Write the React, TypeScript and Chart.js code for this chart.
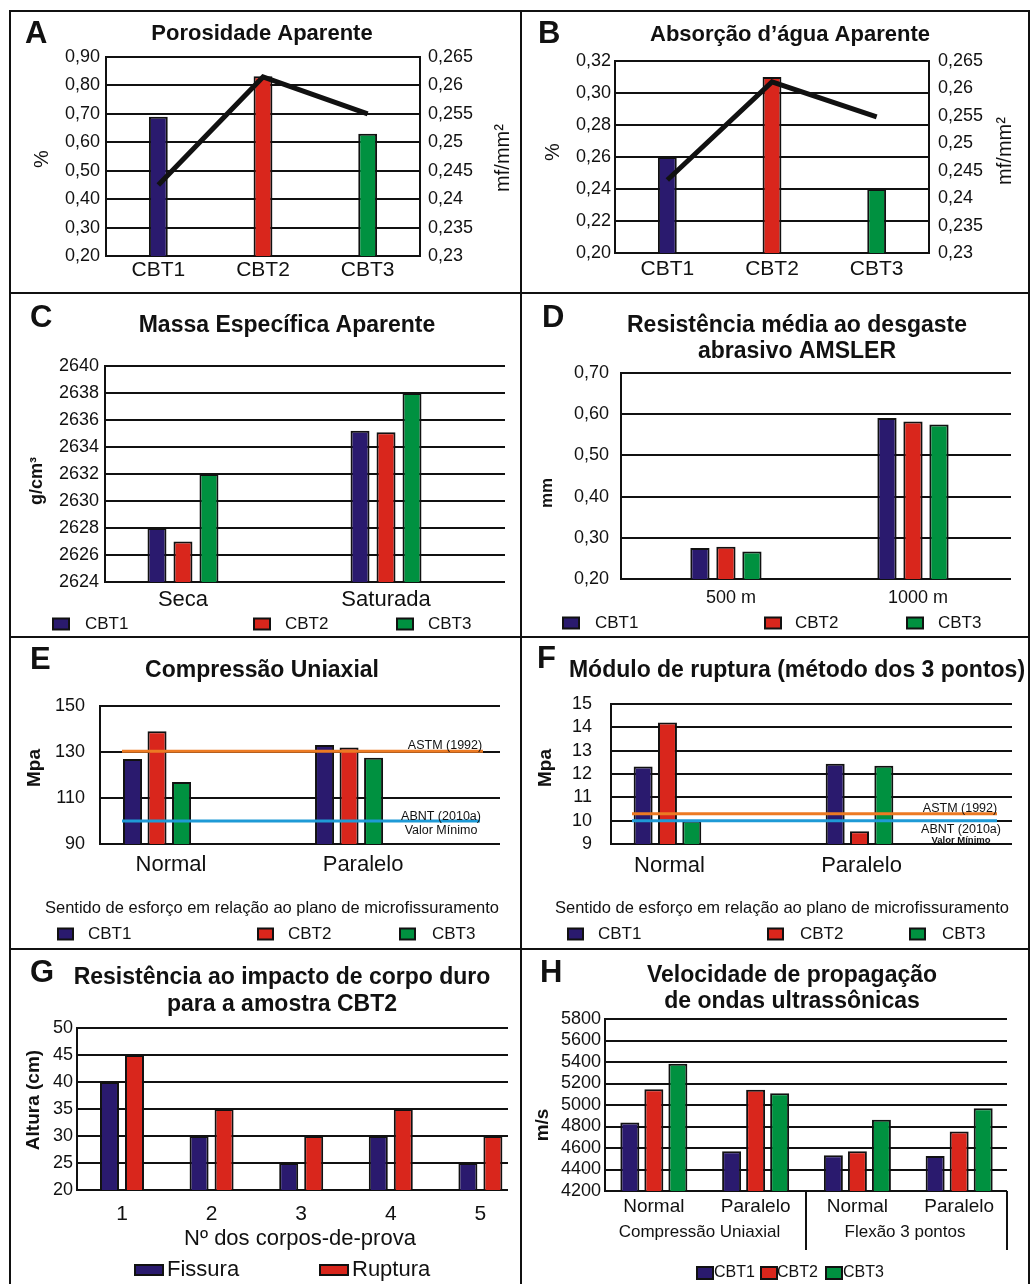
import React, { useEffect, useRef } from 'react';
import { Chart, registerables } from 'chart.js';

Chart.register(...registerables);

// ---------------- colours & fonts ----------------
const NAVY = '#2a1a6e';
const RED = '#d9261c';
const GREEN = '#009140';
const ORANGE = '#ec7a23';
const BLUE = '#1e9ad6';
const INK = '#111111';
const FONT = '"Liberation Sans", Arial, Helvetica, sans-serif';

// ---------------- data ----------------
const SERIES = ['CBT1', 'CBT2', 'CBT3'];

// A - Porosidade aparente
const A_CATS = ['CBT1', 'CBT2', 'CBT3'];
const A_POROSITY = [0.69, 0.832, 0.63];
const A_LINE = [0.2425, 0.2615, 0.255];
const A_LEFT_TICKS = ['0,20', '0,30', '0,40', '0,50', '0,60', '0,70', '0,80', '0,90'];
const AB_RIGHT_TICKS = ['0,23', '0,235', '0,24', '0,245', '0,25', '0,255', '0,26', '0,265'];

// B - Absorção d'água aparente
const B_CATS = ['CBT1', 'CBT2', 'CBT3'];
const B_ABSORPTION = [0.26, 0.31, 0.24];
const B_LINE = [0.2433, 0.2612, 0.2548];
const B_LEFT_TICKS = ['0,20', '0,22', '0,24', '0,26', '0,28', '0,30', '0,32'];

// C - Massa específica aparente
const C_CATS = ['Seca', 'Saturada'];
const C_CBT1 = [2628, 2635.2];
const C_CBT2 = [2627, 2635.1];
const C_CBT3 = [2632, 2638];
const C_TICKS = ['2624', '2626', '2628', '2630', '2632', '2634', '2636', '2638', '2640'];

// D - Desgaste abrasivo AMSLER
const D_CATS = ['500 m', '1000 m'];
const D_CBT1 = [0.275, 0.591];
const D_CBT2 = [0.278, 0.582];
const D_CBT3 = [0.267, 0.575];
const D_TICKS = ['0,20', '0,30', '0,40', '0,50', '0,60', '0,70'];

// E - Compressão uniaxial
const E_CATS = ['Normal', 'Paralelo'];
const E_CBT1 = [127, 133];
const E_CBT2 = [139, 132];
const E_CBT3 = [117, 127.5];
const E_ASTM = 130.3;
const E_ABNT = 100;
const E_TICKS = ['90', '110', '130', '150'];

// F - Módulo de ruptura
const F_CATS = ['Normal', 'Paralelo'];
const F_CBT1 = [12.32, 12.44];
const F_CBT2 = [14.21, 9.55];
const F_CBT3 = [10.0, 12.35];
const F_ASTM = 10.3;
const F_ABNT = 10.0;
const F_TICKS = ['9', '10', '11', '12', '13', '14', '15'];

// G - Impacto de corpo duro (CBT2)
const G_CATS = ['1', '2', '3', '4', '5'];
const G_FISSURA = [40, 30, 25, 30, 25];
const G_RUPTURA = [45, 35, 30, 35, 30];
const G_TICKS = ['20', '25', '30', '35', '40', '45', '50'];

// H - Velocidade de ondas ultrassônicas
const H_CATS = ['Normal', 'Paralelo', 'Normal', 'Paralelo'];
const H_GROUPS = ['Compressão Uniaxial', 'Flexão 3 pontos'];
const H_CBT1 = [4837, 4570, 4532, 4526];
const H_CBT2 = [5147, 5141, 4570, 4753];
const H_CBT3 = [5383, 5110, 4862, 4970];
const H_TICKS = ['4200', '4400', '4600', '4800', '5000', '5200', '5400', '5600', '5800'];

const SERIES_COLORS = [NAVY, RED, GREEN];

// ---------------- helpers ----------------
const num = (s: string) => parseFloat(s.replace(',', '.'));
const pts = (vals: number[]) => vals.map((v, i) => ({ x: i, y: v }));

type TextItem = {
  t: string; x: number; y: number; size: number; bold?: boolean;
  align?: CanvasTextAlign; base?: CanvasTextBaseline; rot?: number;
};
const T = (t: string, x: number, y: number, size: number, o: Partial<TextItem> = {}): TextItem => ({ t, x, y, size, ...o });

type Legend = { size: number; items: [number, number, number, number, number, number][] };
type Ref = { value: number; color: string; x1: number; x2: number };

interface PanelSpec {
  key: string;
  rect: [number, number, number, number];
  plot: [number, number, number, number];
  cats: string[];
  xMin: number; xMax: number; xFont: number; xPad: number; xOffset?: number;
  yTicks: string[]; yFont: number; yPad: number;
  y2Ticks?: string[]; y2Pad?: number;
  datasets: any[];
  texts: TextItem[];
  legend?: Legend;
  refs?: Ref[];
  vlines?: [number, number, number][];
}

const bar = (label: string, vals: number[], color: any, cat: number, barP: number) => ({
  type: 'bar',
  label,
  data: pts(vals),
  backgroundColor: color,
  borderColor: INK,
  borderWidth: 2,
  categoryPercentage: cat,
  barPercentage: barP,
  order: 1,
});

const line = (vals: number[]) => ({
  type: 'line',
  label: 'mf/mm²',
  data: pts(vals),
  yAxisID: 'y1',
  borderColor: INK,
  borderWidth: 5,
  pointRadius: 0,
  tension: 0,
  borderCapStyle: 'butt',
  borderJoinStyle: 'miter',
  order: 0,
});

const three = (a: number[], b: number[], c: number[], cat: number, barP: number) => [
  bar(SERIES[0], a, NAVY, cat, barP),
  bar(SERIES[1], b, RED, cat, barP),
  bar(SERIES[2], c, GREEN, cat, barP),
];

const legendRow = (size: number, y: number, h: number, w: number, boxes: number[], texts: number[]): Legend => ({
  size,
  items: boxes.map((bx, i) => [bx, y - h / 2, w, h, texts[i], y] as [number, number, number, number, number, number]),
});

// ---------------- panels ----------------
const PANELS: PanelSpec[] = [
  {
    key: 'A', rect: [11, 12, 509, 280], plot: [106, 57, 420, 256],
    cats: A_CATS, xMin: -0.5, xMax: 2.5, xFont: 21, xPad: 2,
    yTicks: A_LEFT_TICKS, yFont: 18, yPad: 6, y2Ticks: AB_RIGHT_TICKS, y2Pad: 8,
    datasets: [line(A_LINE), bar('%', A_POROSITY, SERIES_COLORS, 0.18, 1)],
    texts: [
      T('A', 25, 43, 31, { bold: true }),
      T('Porosidade Aparente', 262, 39.5, 22, { bold: true, align: 'center' }),
      T('%', 42, 159, 20, { rot: -90, align: 'center', base: 'middle' }),
      T('mf/mm²', 503, 158, 20, { rot: -90, align: 'center', base: 'middle' }),
    ],
  },
  {
    key: 'B', rect: [522, 12, 506, 280], plot: [615, 61, 929, 253],
    cats: B_CATS, xMin: -0.5, xMax: 2.5, xFont: 21, xPad: 4,
    yTicks: B_LEFT_TICKS, yFont: 18, yPad: 4, y2Ticks: AB_RIGHT_TICKS, y2Pad: 9,
    datasets: [line(B_LINE), bar('%', B_ABSORPTION, SERIES_COLORS, 0.18, 1)],
    texts: [
      T('B', 538, 43, 31, { bold: true }),
      T('Absorção d’água Aparente', 790, 41, 22, { bold: true, align: 'center' }),
      T('%', 553, 152, 20, { rot: -90, align: 'center', base: 'middle' }),
      T('mf/mm²', 1005, 151, 20, { rot: -90, align: 'center', base: 'middle' }),
    ],
  },
  {
    key: 'C', rect: [11, 294, 509, 342], plot: [105, 366, 505, 582],
    cats: C_CATS, xMin: -0.384, xMax: 1.586, xFont: 22, xPad: 5,
    yTicks: C_TICKS, yFont: 18, yPad: 6,
    datasets: three(C_CBT1, C_CBT2, C_CBT3, 0.384, 0.73),
    texts: [
      T('C', 30, 327, 31, { bold: true }),
      T('Massa Específica Aparente', 287, 332, 23, { bold: true, align: 'center' }),
      T('g/cm³', 37, 481, 18, { bold: true, rot: -90, align: 'center', base: 'middle' }),
    ],
    legend: legendRow(17, 624, 11, 16, [53, 254, 397], [85, 285, 428]),
  },
  {
    key: 'D', rect: [522, 294, 506, 342], plot: [621, 373, 1011, 579],
    cats: D_CATS, xMin: -0.561, xMax: 1.524, xFont: 18, xPad: 8, xOffset: 5,
    yTicks: D_TICKS, yFont: 18, yPad: 12,
    datasets: three(D_CBT1, D_CBT2, D_CBT3, 0.417, 0.74),
    texts: [
      T('D', 542, 327, 31, { bold: true }),
      T('Resistência média ao desgaste', 797, 332, 23, { bold: true, align: 'center' }),
      T('abrasivo AMSLER', 797, 358, 23, { bold: true, align: 'center' }),
      T('mm', 547, 493, 17, { bold: true, rot: -90, align: 'center', base: 'middle' }),
    ],
    legend: legendRow(17, 623, 11, 16, [563, 765, 907], [595, 795, 938]),
  },
  {
    key: 'E', rect: [11, 638, 509, 310], plot: [100, 706, 500, 844],
    cats: E_CATS, xMin: -0.297, xMax: 1.786, xFont: 22, xPad: 8, xOffset: 14,
    yTicks: E_TICKS, yFont: 18, yPad: 15,
    datasets: three(E_CBT1, E_CBT2, E_CBT3, 0.383, 0.776),
    texts: [
      T('E', 30, 669, 31, { bold: true }),
      T('Compressão Uniaxial', 262, 677, 23, { bold: true, align: 'center' }),
      T('Mpa', 35, 768, 19, { bold: true, rot: -90, align: 'center', base: 'middle' }),
      T('Sentido de esforço em relação ao plano de microfissuramento', 272, 913, 16.5, { align: 'center' }),
      T('ASTM (1992)', 445, 749, 12.5, { align: 'center' }),
      T('ABNT (2010a)', 441, 820, 12.5, { align: 'center' }),
      T('Valor Mínimo', 441, 834, 12.5, { align: 'center' }),
    ],
    legend: legendRow(17, 934, 11, 15, [58, 258, 400], [88, 288, 432]),
    refs: [
      { value: E_ASTM, color: ORANGE, x1: 122, x2: 483 },
      { value: E_ABNT, color: BLUE, x1: 122, x2: 480 },
    ],
  },
  {
    key: 'F', rect: [522, 638, 506, 310], plot: [611, 704, 1012, 844],
    cats: F_CATS, xMin: -0.294, xMax: 1.794, xFont: 22, xPad: 9, xOffset: 2,
    yTicks: F_TICKS, yFont: 18, yPad: 19,
    datasets: three(F_CBT1, F_CBT2, F_CBT3, 0.38, 0.78),
    texts: [
      T('F', 537, 668, 31, { bold: true }),
      T('Módulo de ruptura (método dos 3 pontos)', 797, 677, 23, { bold: true, align: 'center' }),
      T('Mpa', 546, 768, 19, { bold: true, rot: -90, align: 'center', base: 'middle' }),
      T('Sentido de esforço em relação ao plano de microfissuramento', 782, 913, 16.5, { align: 'center' }),
      T('ASTM (1992)', 960, 812, 12.5, { align: 'center' }),
      T('ABNT (2010a)', 961, 833, 12.5, { align: 'center' }),
      T('Valor Mínimo', 961, 842.5, 9.5, { align: 'center', bold: true }),
    ],
    legend: legendRow(17, 934, 11, 15, [568, 768, 910], [598, 800, 942]),
    refs: [
      { value: F_ASTM, color: ORANGE, x1: 632, x2: 997 },
      { value: F_ABNT, color: BLUE, x1: 632, x2: 997 },
    ],
  },
  {
    key: 'G', rect: [11, 950, 509, 334], plot: [77, 1028, 508, 1190],
    cats: G_CATS, xMin: -0.502, xMax: 4.308, xFont: 21, xPad: 12,
    yTicks: G_TICKS, yFont: 18, yPad: 4,
    datasets: [
      bar('Fissura', G_FISSURA, NAVY, 0.558, 0.76),
      bar('Ruptura', G_RUPTURA, RED, 0.558, 0.76),
    ],
    texts: [
      T('G', 30, 982, 31, { bold: true }),
      T('Resistência ao impacto de corpo duro', 282, 984, 23, { bold: true, align: 'center' }),
      T('para a amostra CBT2', 282, 1010.5, 23, { bold: true, align: 'center' }),
      T('Altura (cm)', 34, 1100, 19, { bold: true, rot: -90, align: 'center', base: 'middle' }),
      T('Nº dos corpos-de-prova', 300, 1245, 22, { align: 'center' }),
    ],
    legend: legendRow(22, 1270, 10, 28, [135, 320], [167, 352]),
  },
  {
    key: 'H', rect: [522, 950, 506, 334], plot: [605, 1019, 1007, 1191],
    cats: H_CATS, xMin: -0.48, xMax: 3.47, xFont: 19, xPad: 4.5,
    yTicks: H_TICKS, yFont: 18, yPad: 4,
    datasets: three(H_CBT1, H_CBT2, H_CBT3, 0.708, 0.79),
    texts: [
      T('H', 540, 982, 31, { bold: true }),
      T('Velocidade de propagação', 792, 982, 23, { bold: true, align: 'center' }),
      T('de ondas ultrassônicas', 792, 1008, 23, { bold: true, align: 'center' }),
      T('m/s', 543, 1125, 19, { bold: true, rot: -90, align: 'center', base: 'middle' }),
      T(H_GROUPS[0], 699.5, 1237, 17, { align: 'center' }),
      T(H_GROUPS[1], 905, 1237, 17, { align: 'center' }),
    ],
    legend: legendRow(16, 1273, 12, 16, [697, 761, 826], [714, 777, 843]),
    vlines: [[806, 1191, 1250], [1007, 1191, 1250]],
  },
];

// ---------------- plugin for panel decorations ----------------
function makeDecor(p: PanelSpec) {
  const [cx, cy] = p.rect;
  return {
    id: 'decor' + p.key,
    afterDatasetsDraw(chart: any) {
      const ctx: CanvasRenderingContext2D = chart.ctx;
      const ys = chart.scales.y;
      (p.refs || []).forEach((r) => {
        const py = ys.getPixelForValue(r.value);
        ctx.save();
        ctx.strokeStyle = r.color;
        ctx.lineWidth = 3;
        ctx.beginPath();
        ctx.moveTo(r.x1 - cx, py);
        ctx.lineTo(r.x2 - cx, py);
        ctx.stroke();
        ctx.restore();
      });
    },
    afterDraw(chart: any) {
      const ctx: CanvasRenderingContext2D = chart.ctx;
      ctx.save();
      (p.vlines || []).forEach(([x, y1, y2]) => {
        ctx.strokeStyle = INK;
        ctx.lineWidth = 2;
        ctx.beginPath();
        ctx.moveTo(x - cx, y1 - cy);
        ctx.lineTo(x - cx, y2 - cy);
        ctx.stroke();
      });
      p.texts.forEach((it) => {
        ctx.save();
        ctx.font = `${it.bold ? 'bold ' : ''}${it.size}px ${FONT}`;
        ctx.fillStyle = INK;
        ctx.textAlign = it.align || 'left';
        ctx.textBaseline = it.base || 'alphabetic';
        if (it.rot) {
          ctx.translate(it.x - cx, it.y - cy);
          ctx.rotate((it.rot * Math.PI) / 180);
          ctx.fillText(it.t, 0, 0);
        } else {
          ctx.fillText(it.t, it.x - cx, it.y - cy);
        }
        ctx.restore();
      });
      if (p.legend) {
        const lg = p.legend;
        lg.items.forEach(([bx, by, bw, bh, tx, ty], i) => {
          const ds = chart.data.datasets.filter((d: any) => d.type === 'bar')[i];
          if (!ds) return;
          ctx.fillStyle = ds.backgroundColor;
          ctx.fillRect(bx - cx, by - cy, bw, bh);
          ctx.strokeStyle = INK;
          ctx.lineWidth = 2;
          ctx.strokeRect(bx - cx, by - cy, bw, bh);
          ctx.font = `${lg.size}px ${FONT}`;
          ctx.fillStyle = INK;
          ctx.textAlign = 'left';
          ctx.textBaseline = 'middle';
          ctx.fillText(ds.label, tx - cx, ty - cy);
        });
      }
      ctx.restore();
    },
  };
}

function buildConfig(p: PanelSpec): any {
  const [cx, cy, cw, ch] = p.rect;
  const [L, T0, R, B] = p.plot;
  const XH = 30;
  const yVals = p.yTicks.map(num);
  const scales: any = {
    x: {
      type: 'linear',
      min: p.xMin,
      max: p.xMax,
      offset: false,
      afterBuildTicks: (s: any) => { s.ticks = p.cats.map((_, i) => ({ value: i })); },
      afterFit: (s: any) => { s.height = XH; },
      grid: { display: false, drawTicks: false },
      border: { display: false },
      ticks: {
        callback: (_v: any, i: number) => p.cats[i],
        font: { family: FONT, size: p.xFont },
        color: INK,
        padding: p.xPad,
        maxRotation: 0,
        minRotation: 0,
        autoSkip: false,
        labelOffset: p.xOffset || 0,
      },
    },
    y: {
      type: 'linear',
      position: 'left',
      min: yVals[0],
      max: yVals[yVals.length - 1],
      beginAtZero: false,
      afterBuildTicks: (s: any) => { s.ticks = yVals.map((v) => ({ value: v })); },
      afterFit: (s: any) => { s.width = L - cx; },
      grid: { color: INK, lineWidth: 2, drawTicks: false },
      border: { display: true, color: INK, width: 2 },
      ticks: {
        callback: (_v: any, i: number) => p.yTicks[i],
        font: { family: FONT, size: p.yFont },
        color: INK,
        padding: p.yPad,
        autoSkip: false,
      },
    },
  };
  if (p.y2Ticks) {
    const y2Vals = p.y2Ticks.map(num);
    scales.y1 = {
      type: 'linear',
      position: 'right',
      min: y2Vals[0],
      max: y2Vals[y2Vals.length - 1],
      afterBuildTicks: (s: any) => { s.ticks = y2Vals.map((v) => ({ value: v })); },
      afterFit: (s: any) => { s.width = cx + cw - R; },
      grid: { display: false, drawTicks: false },
      border: { display: true, color: INK, width: 2 },
      ticks: {
        callback: (_v: any, i: number) => p.y2Ticks![i],
        font: { family: FONT, size: p.yFont },
        color: INK,
        padding: p.y2Pad,
        autoSkip: false,
      },
    };
  }
  return {
    type: 'bar',
    data: { datasets: p.datasets },
    options: {
      responsive: false,
      maintainAspectRatio: false,
      animation: false,
      events: [],
      layout: {
        padding: {
          left: 0,
          top: T0 - cy,
          right: p.y2Ticks ? 0 : cx + cw - R,
          bottom: cy + ch - B - XH,
        },
      },
      plugins: {
        legend: { display: false },
        tooltip: { enabled: false },
        title: { display: false },
      },
      scales,
    },
    plugins: [makeDecor(p)],
  };
}

function Panel({ spec }: { spec: PanelSpec }) {
  const ref = useRef<HTMLCanvasElement>(null);
  useEffect(() => {
    const chart = new Chart(ref.current as HTMLCanvasElement, buildConfig(spec));
    return () => chart.destroy();
  }, [spec]);
  const [cx, cy, cw, ch] = spec.rect;
  return (
    <canvas
      ref={ref}
      width={cw}
      height={ch}
      style={{ position: 'absolute', left: cx, top: cy, width: cw, height: ch }}
    />
  );
}

const LINES: [number, number, number, number][] = [
  [9, 10, 1021, 2],
  [9, 10, 2, 1274],
  [1028, 10, 2, 1274],
  [520, 10, 2, 1274],
  [9, 292, 1021, 2],
  [9, 636, 1021, 2],
  [9, 948, 1021, 2],
];

export default function App() {
  return (
    <div style={{ position: 'absolute', left: 0, top: 0, width: 1033, height: 1284, background: '#fff', overflow: 'hidden' }}>
      {PANELS.map((p) => (
        <Panel key={p.key} spec={p} />
      ))}
      {LINES.map(([x, y, w, h], i) => (
        <div key={i} style={{ position: 'absolute', left: x, top: y, width: w, height: h, background: INK }} />
      ))}
    </div>
  );
}
